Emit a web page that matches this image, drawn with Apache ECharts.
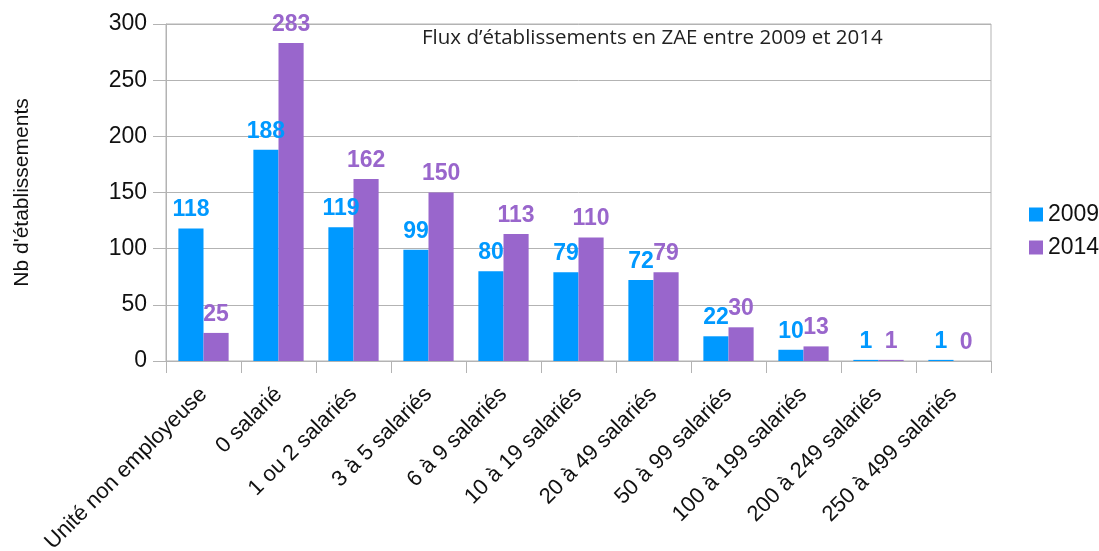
<!DOCTYPE html>
<html>
<head>
<meta charset="utf-8">
<script src="https://cdn.jsdelivr.net/npm/echarts@6/dist/echarts.min.js"></script>
<style>
  html, body { margin: 0; padding: 0; background: #fff; }
  #main-chart { width: 1099px; height: 551px; }
</style>
</head>
<body>
<div id="main-chart"></div>
<script>
var categories = ['Unité non employeuse', '0 salarié', '1 ou 2 salariés', '3 à 5 salariés',
    '6 à 9 salariés', '10 à 19 salariés', '20 à 49 salariés', '50 à 99 salariés',
    '100 à 199 salariés', '200 à 249 salariés', '250 à 499 salariés'];
var values2009 = [118, 188, 119, 99, 80, 79, 72, 22, 10, 1, 1];
var values2014 = [25, 283, 162, 150, 113, 110, 79, 30, 13, 1, 0];
var yTicks = [0, 50, 100, 150, 200, 250, 300];

var blue = '#0099ff';
var purple = '#9966cc';

var myChart = echarts.init(document.getElementById('main-chart'));

function labelStyle(color) {
    return {
        show: true,
        position: 'top',
        distance: 7,
        color: color,
        fontFamily: 'Liberation Sans',
        fontWeight: 'bold',
        fontSize: 23
    };
}

var option = {
    animation: false,
    title: {
        text: 'Flux d\u2019établissements en ZAE entre 2009 et 2014',
        left: 417,
        top: 23,
        textStyle: {
            fontFamily: 'Open Sans',
            fontWeight: 'normal',
            fontSize: 20.5,
            color: '#222'
        }
    },
    legend: {
        orient: 'vertical',
        left: 1024,
        top: 198,
        itemWidth: 14,
        itemHeight: 14,
        itemGap: 10,
        itemStyle: { borderWidth: 0 },
        icon: 'rect',
        data: ['2009', '2014'],
        textStyle: {
            fontFamily: 'Liberation Sans',
            fontSize: 23,
            color: '#111'
        }
    },
    grid: {
        left: 166,
        right: 108,
        top: 24,
        bottom: 190,
        outerBoundsMode: 'none',
        containLabel: false,
        show: true,
        borderColor: '#b3b3b3',
        borderWidth: 1
    },
    xAxis: {
        type: 'category',
        data: categories,
        axisLine: { lineStyle: { color: '#b3b3b3' } },
        axisTick: { show: true, length: 12, lineStyle: { color: '#b3b3b3' } },
        axisLabel: {
            rotate: 45,
            interval: 0,
            margin: 30,
            fontFamily: 'Liberation Sans',
            fontSize: 22,
            color: '#111'
        }
    },
    yAxis: {
        type: 'value',
        min: yTicks[0],
        max: yTicks[yTicks.length - 1],
        interval: 50,
        name: "Nb d'établissements",
        nameLocation: 'middle',
        nameGap: 133,
        nameRotate: 90,
        nameTextStyle: {
            fontFamily: 'Liberation Sans',
            fontSize: 21,
            color: '#111'
        },
        axisLine: { show: true, lineStyle: { color: '#b3b3b3' } },
        axisTick: { show: true, length: 13, lineStyle: { color: '#b3b3b3' } },
        splitLine: { lineStyle: { color: '#b3b3b3' } },
        axisLabel: {
            margin: 19,
            fontFamily: 'Liberation Sans',
            fontSize: 23,
            color: '#111'
        }
    },
    series: [
        {
            name: '2009',
            type: 'bar',
            data: values2009,
            barGap: '0%',
            barCategoryGap: '33%',
            itemStyle: { color: blue },
            label: labelStyle(blue)
        },
        {
            name: '2014',
            type: 'bar',
            data: values2014,
            barGap: '0%',
            barCategoryGap: '33%',
            itemStyle: { color: purple },
            label: labelStyle(purple)
        }
    ]
};
myChart.setOption(option);
</script>
</body>
</html>
